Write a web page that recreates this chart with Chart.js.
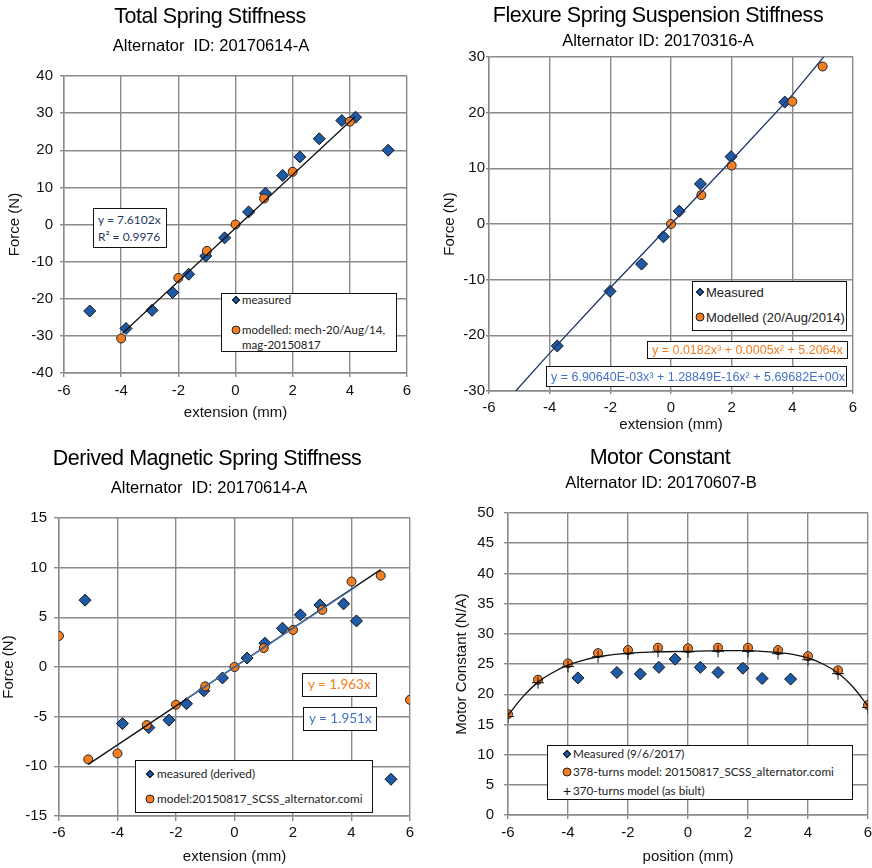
<!DOCTYPE html>
<html>
<head>
<meta charset="utf-8">
<script src="https://cdn.jsdelivr.net/npm/chart.js@4.4.1/dist/chart.umd.min.js"></script>
<style>
  html, body { margin: 0; padding: 0; background: #fff; overflow: hidden; }
  body { position: relative; width: 872px; height: 868px; font-family: 'Liberation Sans', Arial, sans-serif; color: #000; }
  canvas { position: absolute; }
  .ttl, .sub { position: absolute; transform: translate(-50%, -50%); white-space: pre; line-height: 1; }
  .ttl { font-size: 21.5px; letter-spacing: -0.45px; }
  .sub { font-size: 16.5px; }
  .box { position: absolute; box-sizing: border-box; border: 1.5px solid #111; background: #fff; }
  .txt { position: absolute; white-space: pre; line-height: 1; transform: translateY(-50%); }
  .mk { position: absolute; box-sizing: border-box; transform: translate(-50%, -50%); }
</style>
</head>
<body>
<canvas id="totalChart" width="436" height="434" style="left:0;top:0"></canvas>
<canvas id="flexChart" width="436" height="434" style="left:436px;top:0"></canvas>
<canvas id="magChart" width="436" height="434" style="left:0;top:434px"></canvas>
<canvas id="motorChart" width="446" height="434" style="left:436px;top:434px"></canvas>
<script>
// Total spring stiffness (20170614-A)
const totalMeasX = [-5.1, -3.83, -2.92, -2.2, -1.64, -1.04, -0.38, 0.46, 1.05, 1.65, 2.25, 2.93, 3.72, 4.2, 5.34];
const totalMeasY = [-23.3, -28, -23.1, -18.3, -13.4, -8.5, -3.6, 3.4, 8.4, 13.2, 18.2, 23.1, 28.0, 28.9, 20.0];
const totalModelX = [-4, -2, -1, 0, 1, 2, 4];
const totalModelY = [-30.7, -14.4, -7.1, 0, 7.0, 14.2, 27.7];
const totalTrendX = [-3.95, 4.18];
const totalTrendY = [-29.3, 29.0];

// Flexure spring suspension stiffness (20170316-A)
const flexMeasX = [-3.75, -2.01, -0.97, -0.25, 0.27, 0.97, 1.98, 3.75];
const flexMeasY = [-21.9, -12.1, -7.2, -2.3, 2.3, 7.2, 12.1, 21.9];
const flexModelX = [0, 1, 2, 4, 5];
const flexModelY = [0, 5.2, 10.5, 22.0, 28.3];
const flexTrendX = [-5.12, -4, -2, 0, 2, 4, 5.03];
const flexTrendY = [-30, -23.2, -11.45, 0, 11.45, 23.2, 30];

// Derived magnetic spring stiffness
const magMeasX = [-5.11, -3.83, -2.93, -2.24, -1.64, -1.05, -0.41, 0.43, 1.04, 1.64, 2.25, 2.92, 3.73, 4.17, 5.35];
const magMeasY = [6.73, -5.7, -6.1, -5.35, -3.7, -2.4, -1.1, 0.9, 2.4, 3.9, 5.25, 6.25, 6.36, 4.64, -11.3];
const magModelX = [-6, -5, -4, -3, -2, -1, 0, 1, 2, 3, 4, 5, 6];
const magModelY = [3.13, -9.3, -8.7, -5.85, -3.8, -1.95, 0, 1.9, 3.73, 5.75, 8.6, 9.2, -3.3];
const magModelTrendX = [-5, 5];
const magModelTrendY = [-9.8, 9.8];
const magMeasTrendX = [-1.64, 4.17];
const magMeasTrendY = [-3.2, 8.1];

// Motor constant (20170607-B)
const motorMeasX = [-3.67, -2.37, -1.59, -0.97, -0.43, 0.41, 1.0, 1.83, 2.47, 3.42];
const motorMeasY = [22.7, 23.6, 23.35, 24.45, 25.8, 24.45, 23.6, 24.3, 22.6, 22.5];
const motorModelX = [-6, -5, -4, -3, -2, -1, 0, 1, 2, 3, 4, 5, 6];
const motor378Y = [16.7, 22.4, 25.1, 26.8, 27.3, 27.7, 27.6, 27.7, 27.7, 27.3, 26.3, 23.95, 18.2];
const motor370Y = [16.3, 21.9, 24.6, 26.2, 26.7, 27.1, 27.0, 27.1, 27.1, 26.7, 25.7, 23.4, 17.8];
const motorTrendX = [-6, -5.5, -5, -4.5, -4, -3.5, -3, -2, -1, 0, 1, 2, 3, 3.5, 4, 4.5, 5, 5.5, 6];
const motorTrendY = [16.5, 19.6, 22.0, 23.6, 24.8, 25.6, 26.2, 26.8, 27.0, 27.1, 27.2, 27.2, 26.9, 26.6, 26.0, 25.0, 23.5, 21.2, 18.0];

const BLUE = '#1f5aa6';
const ORANGE = '#f47d20';
const GRID = '#8a8a8a';
const tickFont = { family: "'Liberation Sans', Arial, sans-serif", size: 15 };

function pts(xs, ys) {
    return xs.map((x, i) => ({ x: x, y: ys[i] }));
}

function measured(xs, ys, order) {
    return { data: pts(xs, ys), pointStyle: 'rectRot', pointRadius: 6, pointHoverRadius: 6,
        backgroundColor: BLUE, borderColor: '#111', borderWidth: 1, showLine: false, order: order };
}

function modelled(xs, ys, order) {
    return { data: pts(xs, ys), pointStyle: 'circle', pointRadius: 4.5, pointHoverRadius: 4.5,
        backgroundColor: ORANGE, borderColor: '#222', borderWidth: 1, showLine: false, order: order };
}

function trend(xs, ys, color, order, tension) {
    return { data: pts(xs, ys), showLine: true, pointRadius: 0, pointHoverRadius: 0,
        borderColor: color, borderWidth: 1.3, tension: tension || 0, fill: false, order: order };
}

function axisOptions(p) {
    return {
        x: {
            type: 'linear', min: -6, max: 6,
            ticks: { stepSize: 2, padding: p.xTickPad, color: '#111', font: tickFont },
            grid: { color: GRID, tickColor: GRID, lineWidth: 1.4, tickLength: p.tickLen },
            border: { color: GRID, width: 1.4 },
            title: { display: true, text: p.xTitle, color: '#111', font: tickFont, padding: { top: 0, bottom: p.xTitlePad } },
            afterFit: (scale) => { scale.height = p.xHeight; }
        },
        y: {
            type: 'linear', min: p.yMin, max: p.yMax,
            ticks: { stepSize: p.yStep, padding: p.yTickPad, color: '#111', font: tickFont },
            grid: { color: GRID, tickColor: GRID, lineWidth: 1.4, tickLength: p.tickLen },
            border: { color: GRID, width: 1.4 },
            title: { display: true, text: p.yTitle, color: '#111', font: tickFont, padding: { top: p.yTitlePad, bottom: 0 } },
            afterFit: (scale) => { scale.width = p.yWidth; }
        }
    };
}

function makeChart(id, datasets, p) {
    const ctx = document.getElementById(id).getContext('2d');
    return new Chart(ctx, {
        type: 'scatter',
        data: { datasets: datasets },
        options: {
            responsive: false,
            animation: false,
            devicePixelRatio: 1,
            layout: { padding: p.padding },
            plugins: { legend: { display: false }, tooltip: { enabled: false } },
            scales: axisOptions(p)
        }
    });
}

makeChart('totalChart', [
    trend(totalTrendX, totalTrendY, '#111', 0),
    modelled(totalModelX, totalModelY, 1),
    measured(totalMeasX, totalMeasY, 2)
], {
    padding: { left: 0, top: 76, right: 29, bottom: 0 },
    yWidth: 64, xHeight: 61, tickLen: 4, yTickPad: 7, xTickPad: 5,
    yTitlePad: 6, xTitlePad: 12, yMin: -40, yMax: 40, yStep: 10,
    xTitle: 'extension (mm)', yTitle: 'Force (N)'
});

makeChart('flexChart', [
    trend(flexTrendX, flexTrendY, '#1f336b', 0),
    modelled(flexModelX, flexModelY, 1),
    measured(flexMeasX, flexMeasY, 2)
], {
    padding: { left: 0, top: 57, right: 19, bottom: 0 },
    yWidth: 53, xHeight: 43, tickLen: 3, yTickPad: 1, xTickPad: 5,
    yTitlePad: 5, xTitlePad: 0, yMin: -30, yMax: 30, yStep: 10,
    xTitle: 'extension (mm)', yTitle: 'Force (N)'
});

makeChart('magChart', [
    trend(magMeasTrendX, magMeasTrendY, '#4a7ebb', 0),
    trend(magModelTrendX, magModelTrendY, '#111', 1),
    modelled(magModelX, magModelY, 2),
    measured(magMeasX, magMeasY, 3)
], {
    padding: { left: 0, top: 84, right: 26, bottom: 0 },
    yWidth: 59, xHeight: 52, tickLen: 5, yTickPad: 7, xTickPad: 3,
    yTitlePad: 0, xTitlePad: 2, yMin: -15, yMax: 15, yStep: 5,
    xTitle: 'extension (mm)', yTitle: 'Force (N)'
});

makeChart('motorChart', [
    trend(motorTrendX, motorTrendY, '#111', 0, 0.4),
    { data: pts(motorModelX, motor370Y), pointStyle: 'cross', pointRadius: 6, pointHoverRadius: 6,
      borderColor: '#111', borderWidth: 1, showLine: false, order: 1 },
    modelled(motorModelX, motor378Y, 2),
    measured(motorMeasX, motorMeasY, 3)
], {
    padding: { left: 0, top: 79, right: 14, bottom: 0 },
    yWidth: 72, xHeight: 53, tickLen: 4, yTickPad: 10, xTickPad: 5,
    yTitlePad: 17, xTitlePad: 2, yMin: 0, yMax: 50, yStep: 5,
    xTitle: 'position (mm)', yTitle: 'Motor Constant (N/A)'
});

// ---- titles, legends and equation labels (HTML overlay) ----
function el(cls, parent, css, text) {
    const d = document.createElement('div');
    d.className = cls;
    Object.assign(d.style, css);
    if (text !== undefined) d.textContent = text;
    parent.appendChild(d);
    return d;
}

function heading(cx, cy, text, cls) {
    el(cls, document.body, { left: cx + 'px', top: cy + 'px' }, text);
}

function box(left, top, width, height) {
    return el('box', document.body, { left: left + 'px', top: top + 'px', width: width + 'px', height: height + 'px' });
}

function marker(parent, kind, x, y) {
    if (kind === 'diamond') {
        el('mk', parent, { left: x + 'px', top: y + 'px', width: '6px', height: '6px', background: BLUE,
            border: '1px solid #111', transform: 'translate(-50%,-50%) rotate(45deg)' });
    } else if (kind === 'circle') {
        el('mk', parent, { left: x + 'px', top: y + 'px', width: '9px', height: '9px', background: ORANGE,
            border: '1px solid #222', borderRadius: '50%' });
    } else {
        el('mk', parent, { left: x + 'px', top: y + 'px', fontSize: '14px', lineHeight: '1', color: '#111' }, '+');
    }
}

function label(parent, text, x, y, css) {
    el('txt', parent, Object.assign({ left: x + 'px', top: y + 'px' }, css), text);
}

heading(210, 17, 'Total Spring Stiffness', 'ttl');
heading(211, 45, 'Alternator  ID: 20170614-A', 'sub');
heading(658, 16, 'Flexure Spring Suspension Stiffness', 'ttl');
heading(658, 40, 'Alternator ID: 20170316-A', 'sub');
heading(207, 459, 'Derived Magnetic Spring Stiffness', 'ttl');
heading(209, 487, 'Alternator  ID: 20170614-A', 'sub');
heading(660, 458, 'Motor Constant', 'ttl');
heading(661, 482, 'Alternator ID: 20170607-B', 'sub');

const calibri = { fontFamily: "Lato, 'Open Sans', sans-serif", color: '#222' };
const styled = (extra) => Object.assign({}, calibri, extra);

// panel 1
let b = box(93, 208, 74, 40);
label(b, 'y = 7.6102x', 4, 11, styled({ fontSize: '12px', color: '#1f3864' }));
label(b, 'R\u00b2 = 0.9976', 4, 28, styled({ fontSize: '12px', color: '#1f3864' }));
b = box(221, 293, 176, 59);
marker(b, 'diamond', 14, 6);
label(b, 'measured', 20, 6, styled({ fontSize: '11.5px' }));
marker(b, 'circle', 14, 36);
label(b, 'modelled: mech-20/Aug/14,', 20, 36, styled({ fontSize: '11.5px' }));
label(b, 'mag-20150817', 20, 51, styled({ fontSize: '11.5px' }));

// panel 2
b = box(692, 281, 155, 50);
marker(b, 'diamond', 7, 10);
label(b, 'Measured', 13, 10, { fontSize: '13px', color: '#222' });
marker(b, 'circle', 7, 35);
label(b, 'Modelled (20/Aug/2014)', 13, 35, { fontSize: '13px', color: '#222' });
b = box(647, 341, 201, 18);
label(b, 'y = 0.0182x\u00b3 + 0.0005x\u00b2 + 5.2064x', 4, 8, { fontSize: '12.5px', color: ORANGE });
b = box(546, 366, 301, 21);
label(b, 'y = 6.90640E-03x\u00b3 + 1.28849E-16x\u00b2 + 5.69682E+00x', 4, 10, { fontSize: '12.5px', color: '#4472c4' });

// panel 3
b = box(302, 673, 75, 24);
label(b, 'y = 1.963x', 5, 11, styled({ fontSize: '13.5px', color: ORANGE }));
b = box(303, 707, 74, 24);
label(b, 'y = 1.951x', 5, 11, styled({ fontSize: '13.5px', color: '#4472c4' }));
b = box(135, 760, 238, 53);
marker(b, 'diamond', 14, 13);
label(b, 'measured (derived)', 21, 13, styled({ fontSize: '11.8px' }));
marker(b, 'circle', 14, 38);
label(b, 'model:20150817_SCSS_alternator.comi', 21, 38, styled({ fontSize: '11.8px' }));

// panel 4
b = box(547, 745, 306, 55);
marker(b, 'diamond', 19, 8);
label(b, 'Measured (9/6/2017)', 25, 8, styled({ fontSize: '11.7px' }));
marker(b, 'circle', 19, 26);
label(b, '378-turns model: 20150817_SCSS_alternator.comi', 25, 26, styled({ fontSize: '11.7px' }));
marker(b, 'plus', 19, 45);
label(b, '370-turns model (as biult)', 25, 45, styled({ fontSize: '11.7px' }));
</script>
</body>
</html>
